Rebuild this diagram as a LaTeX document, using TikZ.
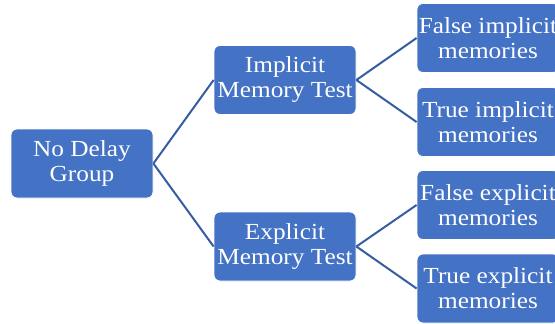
\documentclass[tikz,border=0pt]{standalone}
\usepackage{fontspec}
\setmainfont{Liberation Serif}[FakeStretch=1.1]
\definecolor{boxblue}{RGB}{68,114,196}
\definecolor{lineblue}{RGB}{54,92,163}
\tikzset{
  boxnode/.style={fill=boxblue, draw=white, line width=0.8pt, rounded corners=6pt,
    minimum width=142pt, minimum height=69pt, inner sep=0pt, text=white,
    align=center, font=\fontsize{23}{25}\selectfont},
  conn/.style={draw=lineblue, line width=2pt}
}
\begin{document}
\begin{tikzpicture}[x=1pt,y=-1pt]
\useasboundingbox (0,0) rectangle (555,324);
\clip (0,0) rectangle (555,324);
\node[boxnode] (root) at (82,163.5) {No Delay\\Group};
\node[boxnode] (imp) at (285,80) {Implicit\\Memory Test};
\node[boxnode] (exp) at (285,246.5) {Explicit\\Memory Test};
\node[boxnode] (fi) at (488,38) {False implicit\\memories};
\node[boxnode] (ti) at (488,122) {True implicit\\memories};
\node[boxnode] (fe) at (488,205) {False explicit\\memories};
\node[boxnode] (te) at (488,288.5) {True explicit\\memories};
\draw[conn] (root.east) -- (imp.west);
\draw[conn] (root.east) -- (exp.west);
\draw[conn] (imp.east) -- (fi.west);
\draw[conn] (imp.east) -- (ti.west);
\draw[conn] (exp.east) -- (fe.west);
\draw[conn] (exp.east) -- (te.west);
\end{tikzpicture}
\end{document}
